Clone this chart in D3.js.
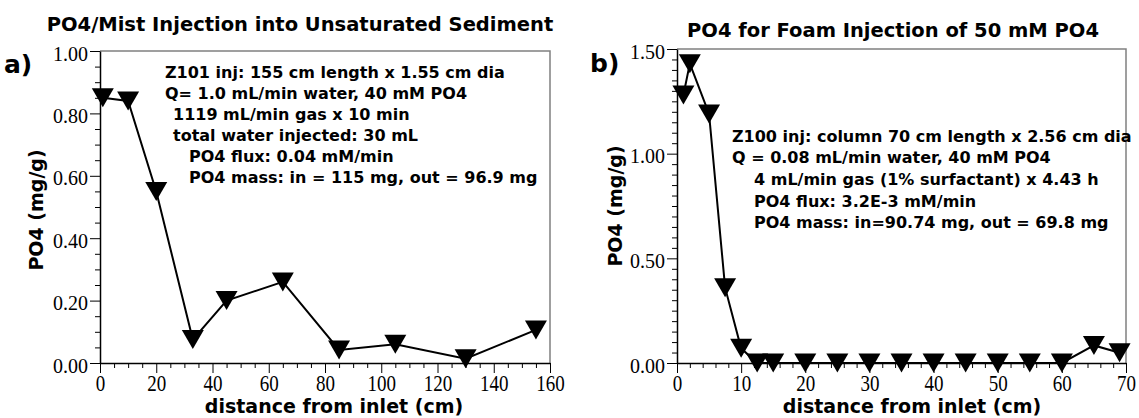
<!DOCTYPE html>
<html>
<head>
<meta charset="utf-8">
<script src="https://cdn.jsdelivr.net/npm/d3@7/dist/d3.min.js"></script>
<style>
  body { margin: 0; background: #fff; }
  .tick text { font-family: "Liberation Serif", "Times New Roman", serif; }
  .lbl { font-family: "DejaVu Sans", Verdana, sans-serif; font-weight: bold; fill: #000; }
</style>
</head>
<body>
<div id="chart"></div>
<script>
// panel a data
const aDist = [1, 10, 20, 33, 45, 65, 85, 105, 130, 155];
const aPO4 = [0.85, 0.84, 0.55, 0.075, 0.20, 0.26, 0.042, 0.06, 0.014, 0.106];
const aXTicks = [0, 20, 40, 60, 80, 100, 120, 140, 160];
const aYTicks = [0, 0.2, 0.4, 0.6, 0.8, 1.0];
const aNotes = [
  "Z101 inj: 155 cm length x 1.55 cm dia",
  "Q= 1.0 mL/min water, 40 mM PO4",
  "1119 mL/min gas x 10 min",
  "total water injected: 30 mL",
  "PO4 flux: 0.04 mM/min",
  "PO4 mass: in = 115 mg, out = 96.9 mg"
];

// panel b data
const bDist = [1, 2, 5, 7.5, 10, 12.5, 15, 20, 25, 30, 35, 40, 45, 50, 55, 60, 65, 69];
const bPO4 = [1.28, 1.43, 1.19, 0.36, 0.07, 0, 0, 0, 0, 0, 0, 0, 0, 0, 0, 0, 0.084, 0.049];
const bXTicks = [0, 10, 20, 30, 40, 50, 60, 70];
const bYTicks = [0, 0.5, 1.0, 1.5];
const bNotes = [
  "Z100 inj: column 70 cm length x 2.56 cm dia",
  "Q = 0.08 mL/min water, 40 mM PO4",
  "4 mL/min gas (1% surfactant) x 4.43 h",
  "PO4 flux: 3.2E-3 mM/min",
  "PO4 mass: in=90.74 mg, out = 69.8 mg"
];

const width = 1139, height = 418;

const svg = d3.select("#chart")
  .append("svg")
  .attr("width", width)
  .attr("height", height);

function panel(p) {
  const x = d3.scaleLinear().domain(p.xDomain).range([p.left, p.right]);
  const y = d3.scaleLinear().domain(p.yDomain).range([p.bottom, p.top]);
  const g = svg.append("g");

  // top + right frame (gray)
  g.append("path")
    .attr("d", `M${p.left},${p.top}H${p.right}V${p.bottom}`)
    .attr("fill", "none")
    .attr("stroke", "#808080")
    .attr("stroke-width", 1.5);

  // minor ticks
  g.append("g")
    .attr("transform", `translate(0,${p.bottom})`)
    .call(d3.axisBottom(x).tickValues(p.xMinor).tickSize(5).tickFormat(""))
    .call(s => s.select(".domain").remove());
  g.append("g")
    .attr("transform", `translate(${p.left},0)`)
    .call(d3.axisLeft(y).tickValues(p.yMinor).tickSize(5).tickFormat(""))
    .call(s => s.select(".domain").remove());

  // major axes
  const xa = g.append("g")
    .attr("transform", `translate(0,${p.bottom})`)
    .call(d3.axisBottom(x).tickValues(p.xTicks).tickSize(10).tickSizeOuter(0).tickFormat(d3.format("d")));
  // the x labels in the reference are drawn a bit tall and narrow
  xa.selectAll("text")
    .attr("font-size", "19px")
    .attr("fill", "#000")
    .attr("y", 22.8)
    .attr("dy", 0)
    .attr("transform", "scale(1,1.25)");
  xa.select(".domain").attr("stroke-width", 1.5);

  const ya = g.append("g")
    .attr("transform", `translate(${p.left},0)`)
    .call(d3.axisLeft(y).tickValues(p.yTicks).tickSize(10).tickSizeOuter(0).tickPadding(2).tickFormat(d3.format(".2f")));
  ya.selectAll("text").attr("font-size", "20px").attr("dy", "0.45em").attr("fill", "#000");
  ya.select(".domain").attr("stroke-width", 1.5);

  // line
  const line = d3.line().x((d, i) => x(p.dist[i])).y(d => y(d));
  g.append("path")
    .datum(p.vals)
    .attr("d", line)
    .attr("fill", "none")
    .attr("stroke", "#000")
    .attr("stroke-width", 2);

  // down-triangle markers
  g.selectAll(".pt")
    .data(p.vals)
    .enter()
    .append("path")
      .attr("class", "pt")
      .attr("d", "M-11,-9.5L11,-9.5L0,9.5Z")
      .attr("transform", (d, i) => `translate(${x(p.dist[i])},${y(d)})`)
      .attr("fill", "#000");

  // titles
  g.append("text").attr("class", "lbl")
    .attr("x", p.titleX).attr("y", p.titleY)
    .attr("text-anchor", "middle").attr("font-size", "19.5px")
    .text(p.title);
  g.append("text").attr("class", "lbl")
    .attr("x", p.tagX).attr("y", p.tagY)
    .attr("font-size", "25px")
    .text(p.tag);
  g.append("text").attr("class", "lbl")
    .attr("transform", `translate(${p.yLabX},${p.yLabY}) rotate(-90)`)
    .attr("text-anchor", "middle").attr("font-size", "19px")
    .text("PO4 (mg/g)");
  g.append("text").attr("class", "lbl")
    .attr("x", p.xLabX).attr("y", 413)
    .attr("text-anchor", "middle").attr("font-size", "19px")
    .text("distance from inlet (cm)");

  // notes
  g.selectAll(".note")
    .data(p.notes)
    .enter()
    .append("text")
      .attr("class", "lbl")
      .attr("x", (d, i) => p.noteX[i])
      .attr("y", (d, i) => p.noteY + i * p.noteDy)
      .attr("font-size", "16px")
      .text(d => d);
}

panel({
  xDomain: [0, 160], yDomain: [0, 1],
  left: 100, right: 550, top: 51, bottom: 363,
  xTicks: aXTicks, yTicks: aYTicks,
  xMinor: d3.range(0, 161, 5).filter(v => v % 20 !== 0),
  yMinor: d3.range(1, 20).map(v => v * 0.05).filter(v => Math.round(v * 100) % 20 !== 0),
  dist: aDist, vals: aPO4,
  title: "PO4/Mist Injection into Unsaturated Sediment", titleX: 300, titleY: 31,
  tag: "a)", tagX: 4, tagY: 73,
  yLabX: 43, yLabY: 210, xLabX: 334,
  notes: aNotes, noteX: [165, 165, 173, 173, 189, 189], noteY: 78, noteDy: 21
});

panel({
  xDomain: [0, 70], yDomain: [0, 1.5],
  left: 677, right: 1126, top: 49, bottom: 363,
  xTicks: bXTicks, yTicks: bYTicks,
  xMinor: d3.range(0, 71, 2).filter(v => v % 10 !== 0),
  yMinor: d3.range(1, 30).map(v => v * 0.05).filter(v => Math.round(v * 100) % 50 !== 0),
  dist: bDist, vals: bPO4,
  title: "PO4 for Foam Injection of 50 mM PO4", titleX: 893, titleY: 37,
  tag: "b)", tagX: 590, tagY: 72,
  yLabX: 622, yLabY: 206, xLabX: 912,
  notes: bNotes, noteX: [732, 732, 754, 754, 754], noteY: 141.5, noteDy: 21.7
});
</script>
</body>
</html>
